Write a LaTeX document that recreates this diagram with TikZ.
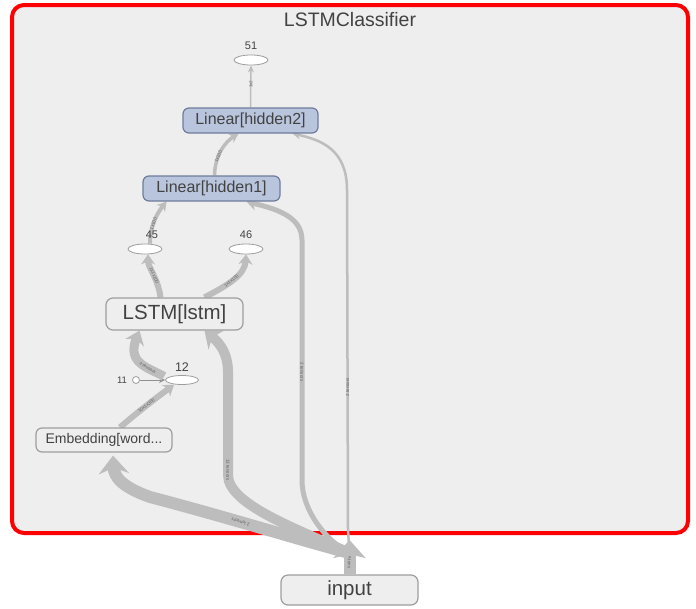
\documentclass[tikz,border=0pt]{standalone}
\usepackage{fontspec}
\setmainfont{Liberation Sans}
\usetikzlibrary{arrows.meta,shapes.geometric}
\pgfdeclarelayer{edgelayer}
\pgfsetlayers{edgelayer,main}
\definecolor{bgc}{HTML}{EEEEEE}
\definecolor{edgec}{HTML}{BDBDBD}
\definecolor{linfill}{HTML}{B9C4DD}
\definecolor{linbord}{HTML}{6E7C9C}
\definecolor{boxbord}{HTML}{9E9E9E}
\definecolor{txtc}{HTML}{424242}
\definecolor{lblc}{HTML}{616161}
\tikzset{
  opnode/.style={draw=boxbord, line width=1.2pt, rounded corners=7pt, fill=bgc, text=txtc, inner sep=0pt},
  linnode/.style={draw=linbord, line width=1.2pt, rounded corners=6pt, fill=linfill, text=txtc, inner sep=0pt,
     minimum height=25pt, font=\fontsize{16}{18}\selectfont},
  ovalnode/.style={ellipse, draw=boxbord, line width=0.8pt, fill=white, inner sep=0pt},
  numlbl/.style={text=txtc, inner sep=0pt},
  edg/.style={draw=edgec, line cap=butt},
  lbl/.style={text=lblc, font=\fontsize{4.5}{5}\selectfont, inner sep=0.5pt, sloped},
}
\begin{document}
\begin{tikzpicture}[x=1pt,y=-1pt]
\useasboundingbox (0,0) rectangle (696,608);
% nodes
\node[text=txtc, font=\fontsize{19.5}{22}\selectfont] (title) at (350,20) {LSTMClassifier};
\node[ovalnode, minimum width=34pt, minimum height=10pt] (n51) at (251,60) {};
\node[numlbl, font=\fontsize{11}{12}\selectfont] (t51) at (251,46) {51};
\node[linnode, minimum width=135pt] (lin2) at (250.5,120.5) {Linear[hidden2]};
\node[linnode, minimum width=137pt] (lin1) at (211.5,188.5) {Linear[hidden1]};
\node[ovalnode, minimum width=34pt, minimum height=10pt] (n45) at (145,249) {};
\node[numlbl, font=\fontsize{11}{12}\selectfont] (t45) at (152,235) {45};
\node[ovalnode, minimum width=34pt, minimum height=10pt] (n46) at (246,249) {};
\node[numlbl, font=\fontsize{11}{12}\selectfont] (t46) at (246,235) {46};
\node[opnode, minimum width=137pt, minimum height=32pt, font=\fontsize{20.5}{22}\selectfont] (lstm) at (174.5,314) {LSTM[lstm]};
\node[ovalnode, minimum width=33pt, minimum height=9pt] (n12) at (182,380) {};
\node[numlbl, font=\fontsize{12.5}{14}\selectfont] (t12) at (182,367) {12};
\node[circle, draw=boxbord, line width=0.8pt, fill=white, minimum size=7pt, inner sep=0pt] (n11) at (136,380) {};
\node[numlbl, font=\fontsize{9.5}{10}\selectfont] (t11) at (122,380) {11};
\node[opnode, minimum width=136pt, minimum height=24pt, rounded corners=6pt, font=\fontsize{14}{16}\selectfont] (emb) at (104,440) {Embedding[word...};
\node[opnode, minimum width=137pt, minimum height=30pt, font=\fontsize{20.5}{22}\selectfont] (inp) at (349.5,590) {input};
\begin{pgfonlayer}{edgelayer}
% frame
\draw[red, line width=4pt, fill=bgc, rounded corners=12pt] (12,5) rectangle (688,533);
% edges
\draw[edg, line width=1.5pt, -{Stealth[length=7pt,width=6pt]}]
  (lin2.north) -- node[lbl, pos=0.55] {1x2} (n51.south);
\draw[edg, line width=3.5pt, -{Stealth[length=9pt,width=10pt]}]
  ([xshift=3pt]lin1.north) .. controls (215,155) and (225,142) .. node[lbl, pos=0.35] {1x100} ([xshift=-12pt]lin2.south);
\draw[edg, line width=4pt, -{Stealth[length=9pt,width=11pt]}]
  ([xshift=5pt]n45.north) .. controls (150,225) and (158,212) .. node[lbl, pos=0.4] {1x100} ([xshift=-45pt]lin1.south);
\draw[edg, line width=6pt, -{Stealth[length=10pt,width=14pt]}]
  ([xshift=-14pt]lstm.north) .. controls (158,278) and (148,268) .. node[lbl, pos=0.45] {1x1x100} ([xshift=3pt]n45.south);
\draw[edg, line width=6pt, -{Stealth[length=10pt,width=14pt]}]
  ([xshift=30pt]lstm.north) .. controls (228,285) and (245,275) .. node[lbl, pos=0.45] {1x1x100} (n46.south);
\draw[edg, line width=6pt, -{Stealth[length=10pt,width=14pt]}]
  ([xshift=16pt]emb.north) .. controls (140,410) and (160,395) .. node[lbl, pos=0.45] {10x1x300} ([xshift=-8pt]n12.south);
\draw[edg, line width=1pt, draw=lblc!70, -{Stealth[length=6pt,width=6pt]}]
  (n11.east) -- (n12.west);
\draw[edg, line width=9pt, -{Stealth[length=13pt,width=20pt]}]
  ([xshift=-6pt]n12.north west) .. controls (150,368) and (126,364) .. node[lbl, pos=0.35] {4 tensors} ([xshift=-35pt]lstm.south);
% from input
\coordinate (fan) at (349.5,553);
\coordinate (stubtip) at (349.5,540);
\draw[edg, line width=12pt, -{Stealth[length=18pt,width=32pt,inset=4pt]}]
  (inp.north) -- node[lbl, pos=0.35, rotate=180] {8 tens} (stubtip);
\draw[edg, line width=12pt, -{Stealth[length=18pt,width=30pt]}]
  (fan) .. controls (300,540) and (230,518) .. node[lbl, pos=0.6, rotate=180] {2 tensors} (150,497)
  .. controls (122,487) and (114,477) .. ([xshift=9pt,yshift=-3pt]emb.south);
\draw[edg, line width=10pt, -{Stealth[length=15pt,width=24pt]}]
  (fan) .. controls (300,530) and (228,505) .. (228,475)
  -- node[lbl, pos=0.05, rotate=180] {13 tensors} (228,372)
  .. controls (228,350) and (216,340) .. ([xshift=30pt]lstm.south);
\draw[edg, line width=5pt, -{Stealth[length=10pt,width=13pt]}]
  (fan) .. controls (325,540) and (302,510) .. (302,480)
  -- node[lbl, pos=0.45, rotate=180] {2 tensors} (302,240)
  .. controls (302,215) and (272,208) .. ([xshift=35pt]lin1.south);
\draw[edg, line width=2.5pt, -{Stealth[length=8pt,width=8pt]}]
  (fan) -- (348,530) -- node[lbl, pos=0.42, rotate=180] {2 tensors} (347,190)
  .. controls (347,150) and (322,140) .. ([xshift=42pt]lin2.south);
\end{pgfonlayer}
\end{tikzpicture}
\end{document}
